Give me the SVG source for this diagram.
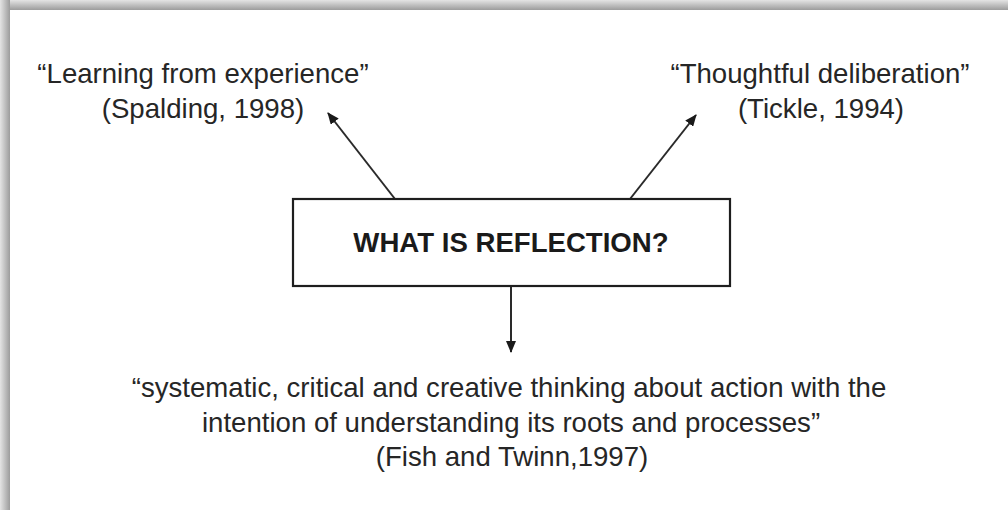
<svg xmlns="http://www.w3.org/2000/svg" width="1008" height="510" viewBox="0 0 1008 510">
  <style>
    .lbl { font-family: "Liberation Sans", Arial, sans-serif; font-size: 27.6px; fill: #262626; text-anchor: middle; }
    .title { font-weight: bold; fill: #1a1a1a; }
    .box { fill: #ffffff; stroke: #1e1e1e; stroke-width: 2.2; }
    .conn { stroke: #2a2a2a; stroke-width: 2; fill: none; }
  </style>
  <defs>
    <marker id="head" viewBox="0 0 12 10" refX="11" refY="5" markerWidth="12" markerHeight="10" markerUnits="userSpaceOnUse" orient="auto">
      <path d="M0,0 L12,5 L0,10 Z" fill="#1a1a1a"/>
    </marker>
    <linearGradient id="shadeTop" x1="0" y1="0" x2="0" y2="1">
      <stop offset="0" stop-color="#e4e4e4"/>
      <stop offset="1" stop-color="#9c9c9c"/>
    </linearGradient>
    <linearGradient id="shadeLeft" x1="0" y1="0" x2="1" y2="0">
      <stop offset="0" stop-color="#e4e4e4"/>
      <stop offset="1" stop-color="#9c9c9c"/>
    </linearGradient>
  </defs>

  <!-- page with drop shadow along top and left edges -->
  <rect x="0" y="0" width="1008" height="510" fill="#ffffff"/>
  <rect x="0" y="0" width="1008" height="10" fill="url(#shadeTop)"/>
  <rect x="0" y="0" width="10" height="510" fill="url(#shadeLeft)"/>

  <!-- connectors -->
  <g id="connectors">
    <line class="conn" x1="395" y1="199" x2="328" y2="113" marker-end="url(#head)"/>
    <line class="conn" x1="630" y1="199" x2="696" y2="115" marker-end="url(#head)"/>
    <line class="conn" x1="511" y1="286" x2="511" y2="352" marker-end="url(#head)"/>
  </g>

  <g id="center">
    <rect class="box" x="293" y="199" width="437" height="87"/>
    <text class="lbl title" x="511" y="252">WHAT IS REFLECTION?</text>
  </g>

  <g id="spalding">
    <text class="lbl" x="203" y="83">“Learning from experience”</text>
    <text class="lbl" x="203" y="118">(Spalding, 1998)</text>
  </g>

  <g id="tickle">
    <text class="lbl" x="820" y="83">“Thoughtful deliberation”</text>
    <text class="lbl" x="821" y="118">(Tickle, 1994)</text>
  </g>

  <g id="fish-twinn">
    <text class="lbl" x="509" y="397">“systematic, critical and creative thinking about action with the</text>
    <text class="lbl" x="511" y="432">intention of understanding its roots and processes”</text>
    <text class="lbl" x="512" y="466">(Fish and Twinn,1997)</text>
  </g>
</svg>
